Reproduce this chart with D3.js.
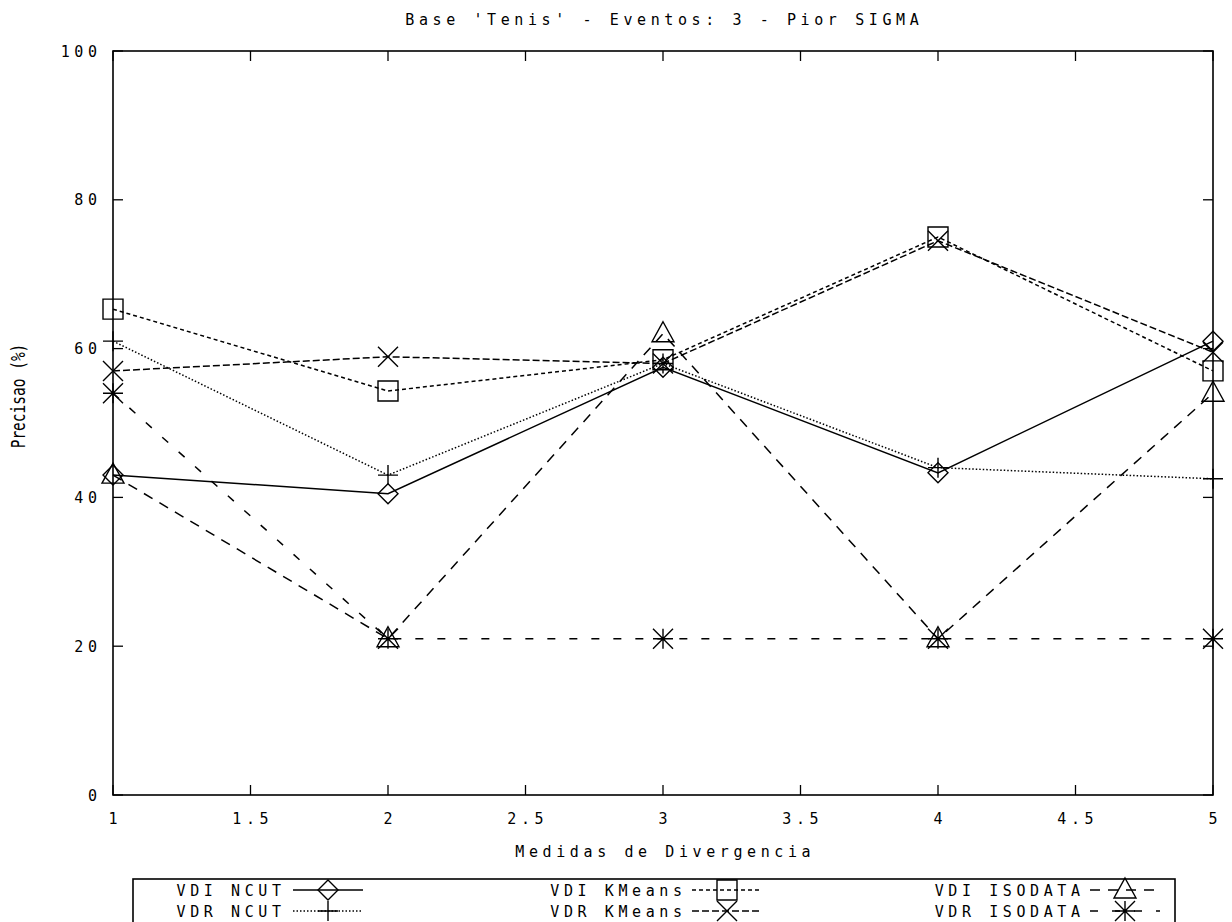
<!DOCTYPE html>
<html><head><meta charset="utf-8">
<script src="https://cdn.jsdelivr.net/npm/d3@7"></script>
<style>
html,body{margin:0;padding:0;background:#fff;}
svg text{font-family:"DejaVu Sans Mono",monospace;font-size:15px;fill:#000;}
</style></head>
<body><svg id="c" width="1232" height="922"></svg>
<script>
const title = "Base 'Tenis' - Eventos: 3 - Pior SIGMA";
const xLabel = "Medidas de Divergencia";
const yLabel = "Precisao (%)";
const xValues = [1, 2, 3, 4, 5];
const xTicks = [1, 1.5, 2, 2.5, 3, 3.5, 4, 4.5, 5];
const yTicks = [0, 20, 40, 60, 80, 100];
const seriesNames = ["VDI NCUT", "VDR NCUT", "VDI KMeans", "VDR KMeans", "VDI ISODATA", "VDR ISODATA"];
const vdiNcut    = [43, 40.5, 57.5, 43.3, 61];
const vdrNcut    = [61, 43, 58, 44, 42.5];
const vdiKmeans  = [65.3, 54.3, 58.5, 75, 57];
const vdrKmeans  = [57, 58.9, 58, 74.5, 59.5];
const vdiIsodata = [43, 21, 62, 21, 54];
const vdrIsodata = [54, 21, 21, 21, 21];
const seriesValues = [vdiNcut, vdrNcut, vdiKmeans, vdrKmeans, vdiIsodata, vdrIsodata];
const markers = ["diamond", "plus", "square", "cross", "triangle", "star"];
const dashes = [null, "1.5,2", "4,3", "7,3", "10,8", "8,14"];

const svg = d3.select("#c");
const L = 113, R = 1213, T = 51, B = 795;
const x = d3.scaleLinear().domain([1, 5]).range([L, R]);
const y = d3.scaleLinear().domain([0, 100]).range([B, T]);
const LS = 4.6;

function txt(px, py, s, anchor) {
  const off = anchor === "end" ? LS : anchor === "middle" ? LS / 2 : 0;
  return svg.append("text").attr("x", px + off).attr("y", py).attr("text-anchor", anchor)
    .style("letter-spacing", LS + "px").text(s);
}

// frame
svg.append("rect").attr("x", L).attr("y", T).attr("width", R - L).attr("height", B - T)
  .attr("fill", "none").attr("stroke", "#000").attr("stroke-width", 1.6);

const tl = 10;
const gx = svg.append("g");
xTicks.forEach(t => {
  gx.append("line").attr("x1", x(t)).attr("x2", x(t)).attr("y1", B).attr("y2", B - tl).attr("stroke", "#000").attr("stroke-width", 1.3);
  gx.append("line").attr("x1", x(t)).attr("x2", x(t)).attr("y1", T).attr("y2", T + tl).attr("stroke", "#000").attr("stroke-width", 1.3);
  txt(x(t), 824, String(t), "middle");
});
yTicks.forEach(t => {
  gx.append("line").attr("x1", L).attr("x2", L + tl).attr("y1", y(t)).attr("y2", y(t)).attr("stroke", "#000").attr("stroke-width", 1.3);
  gx.append("line").attr("x1", R).attr("x2", R - tl).attr("y1", y(t)).attr("y2", y(t)).attr("stroke", "#000").attr("stroke-width", 1.3);
  txt(97, y(t) + 5.5, String(t), "end");
});

txt(662, 25, title, "middle");
txt(663, 857, xLabel, "middle");
svg.append("text").attr("transform", "translate(25,396) scale(1.3,1) rotate(-90)")
  .attr("text-anchor", "middle").style("font-size", "14.5px").text(yLabel);

function drawMarker(g, type, cx, cy) {
  const s = 10;
  let d;
  switch (type) {
    case "diamond": d = `M${cx},${cy - s}L${cx + s},${cy}L${cx},${cy + s}L${cx - s},${cy}Z`; break;
    case "plus": d = `M${cx - s},${cy}L${cx + s},${cy}M${cx},${cy - s}L${cx},${cy + s}`; break;
    case "square": d = `M${cx - s},${cy - s}h${2 * s}v${2 * s}h${-2 * s}Z`; break;
    case "cross": d = `M${cx - s},${cy - s}L${cx + s},${cy + s}M${cx - s},${cy + s}L${cx + s},${cy - s}`; break;
    case "triangle": d = `M${cx},${cy - s - 2}L${cx + s + 1},${cy + s - 2}L${cx - s - 1},${cy + s - 2}Z`; break;
    case "star": d = `M${cx - s},${cy}L${cx + s},${cy}M${cx},${cy - s}L${cx},${cy + s}M${cx - s},${cy - s}L${cx + s},${cy + s}M${cx - s},${cy + s}L${cx + s},${cy - s}`; break;
  }
  g.append("path").attr("d", d).attr("fill", "none").attr("stroke", "#000").attr("stroke-width", 1.4);
}

const line = d3.line().x((d, i) => x(xValues[i])).y(d => y(d));
seriesValues.forEach((vals, k) => {
  const g = svg.append("g");
  g.append("path").datum(vals).attr("d", line).attr("fill", "none").attr("stroke", "#000")
    .attr("stroke-width", 1.5).attr("stroke-dasharray", dashes[k]);
  vals.forEach((v, i) => drawMarker(g, markers[k], x(xValues[i]), y(v)));
});

// legend
const lg = svg.append("g");
lg.append("rect").attr("x", 133).attr("y", 879).attr("width", 1042).attr("height", 60)
  .attr("fill", "none").attr("stroke", "#000").attr("stroke-width", 1.6);
const colTextEnd = [281, 682, 1080];
const colSample = [[293, 363], [692, 762], [1090, 1160]];
seriesNames.forEach((name, k) => {
  const col = Math.floor(k / 2), row = k % 2;
  const yy = 890 + row * 21;
  txt(colTextEnd[col], yy + 5.5, name, "end");
  const [a, b] = colSample[col];
  lg.append("line").attr("x1", a).attr("x2", b).attr("y1", yy).attr("y2", yy).attr("stroke", "#000")
    .attr("stroke-width", 1.5).attr("stroke-dasharray", dashes[k]);
  drawMarker(lg, markers[k], (a + b) / 2, yy);
});
</script></body></html>
